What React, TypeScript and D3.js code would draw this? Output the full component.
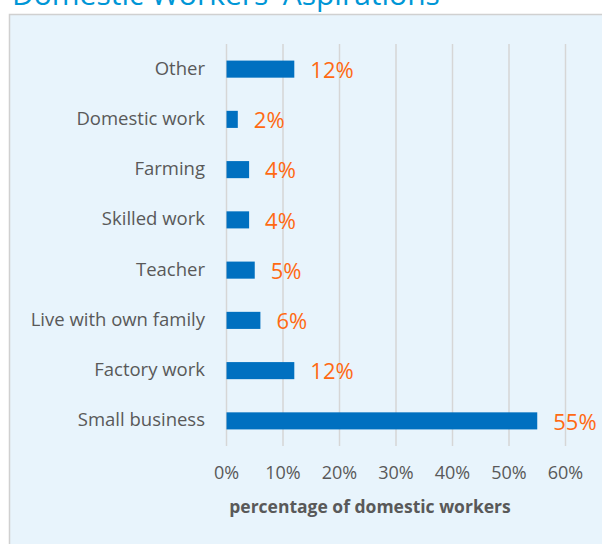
import React, { useEffect, useRef } from "react";
import * as d3 from "d3";

const categories = ["Other", "Domestic work", "Farming", "Skilled work", "Teacher", "Live with own family", "Factory work", "Small business"];
const values = [12, 2, 4, 4, 5, 6, 12, 55];
const ticks = [0, 10, 20, 30, 40, 50, 60];
const title = "Domestic Workers' Aspirations";
const xTitle = "percentage of domestic workers";

const W = 602, H = 544;
const FONT = "'Open Sans', sans-serif";

export default function App() {
  const ref = useRef<SVGSVGElement>(null);
  useEffect(() => {
    const svg = d3.select(ref.current);
    svg.selectAll("*").remove();

    svg.append("rect").attr("x", 9.5).attr("y", 14.5).attr("width", 700).attr("height", 700)
      .attr("fill", "#E8F4FC").attr("stroke", "#D0D0D0").attr("stroke-width", 1.5);

    svg.append("text").attr("x", 12).attr("y", 5).attr("fill", "#0096D6")
      .attr("font-family", FONT).attr("font-size", 30).text(title);

    const x = d3.scaleLinear().domain([0, 60]).range([226.5, 565.5]);
    const y = d3.scaleBand().domain(categories).range([44, 446]).paddingInner(0.66).paddingOuter(0.33);

    const g = svg.append("g");
    g.selectAll("line.grid").data(ticks).join("line")
      .attr("x1", d => x(d)).attr("x2", d => x(d)).attr("y1", 44).attr("y2", 446)
      .attr("stroke", "#D6D6D6").attr("stroke-width", 1.5);

    g.selectAll("rect.bar").data(values).join("rect")
      .attr("x", x(0)).attr("y", (d, i) => y(categories[i])!)
      .attr("width", d => x(d) - x(0)).attr("height", y.bandwidth())
      .attr("fill", "#0070C0");

    g.selectAll("text.val").data(values).join("text")
      .attr("x", d => x(d) + 16).attr("y", (d, i) => y(categories[i])! + y.bandwidth() / 2)
      .attr("dy", "0.4em").attr("fill", "#FF6A13").attr("font-family", FONT).attr("font-size", 22)
      .text(d => `${d}%`);

    g.selectAll("text.cat").data(categories).join("text")
      .attr("x", 205).attr("y", d => y(d)! + y.bandwidth() / 2).attr("dy", "0.3em")
      .attr("text-anchor", "end").attr("fill", "#595959").attr("font-family", FONT).attr("font-size", 18.5)
      .text(d => d);

    g.selectAll("text.tick").data(ticks).join("text")
      .attr("x", d => x(d)).attr("y", 479).attr("text-anchor", "middle")
      .attr("fill", "#595959").attr("font-family", FONT).attr("font-size", 18)
      .text(d => `${d}%`);

    svg.append("text").attr("x", 370).attr("y", 513).attr("text-anchor", "middle")
      .attr("fill", "#595959").attr("font-family", FONT).attr("font-size", 17.5).attr("font-weight", "bold")
      .text(xTitle);
  }, []);
  return <svg ref={ref} width={W} height={H} style={{ position: "absolute", left: 0, top: 0, display: "block" }} />;
}
